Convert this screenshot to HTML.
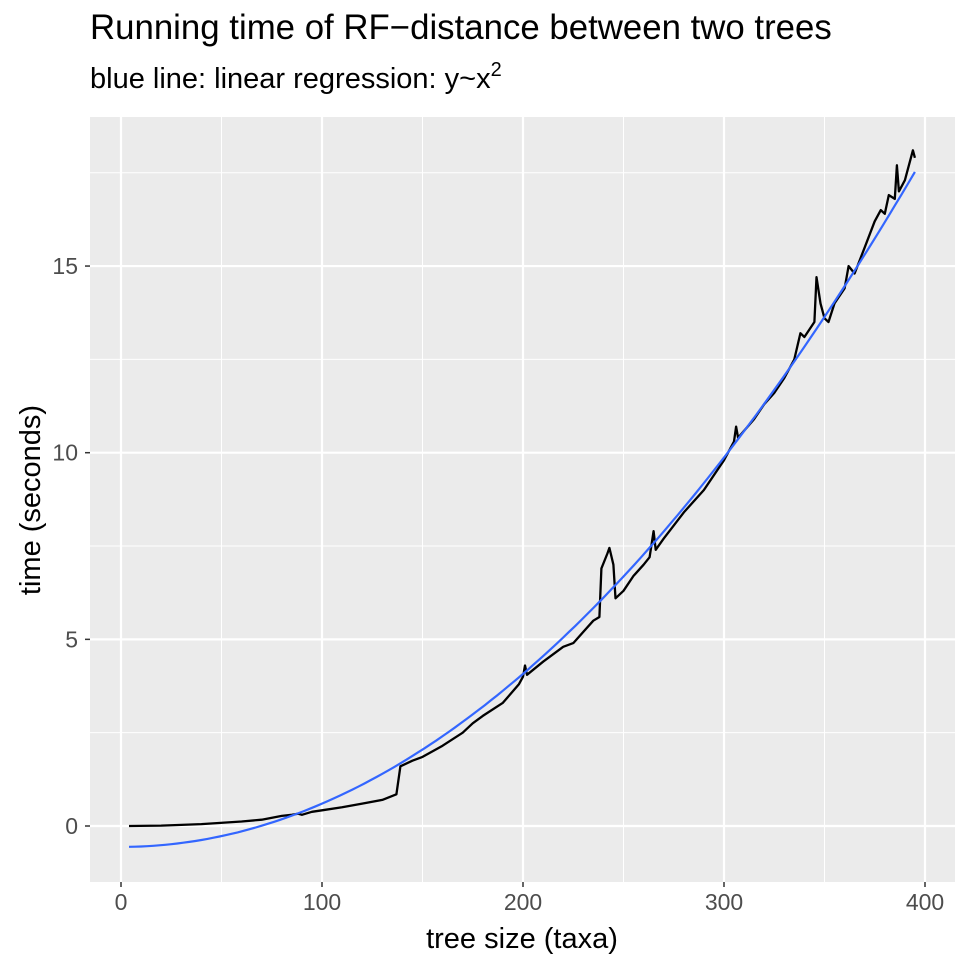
<!DOCTYPE html>
<html><head><meta charset="utf-8"><style>
body{margin:0;background:#fff}
svg text{font-family:"Liberation Sans",sans-serif}
</style></head><body>
<svg width="965" height="968" xmlns="http://www.w3.org/2000/svg">
<g id="root"></g>
</svg>
<script>
const xTicks=[0,100,200,300,400];
const yTicks=[0,5,10,15];
const xMinor=[50,150,250,350];
const yMinor=[2.5,7.5,12.5,17.5];
const sizes=[4,20,40,60,70,80,85,88,90,95,100,110,120,130,137,139,145,150,160,170,175,180,190,198,200,201,202,210,220,225,230,235,238,239,242,243,245,246,250,255,260,263,265,266,270,280,290,300,305,306,307,315,320,325,330,335,338,340,345,346,348,350,352,355,360,362,365,370,375,378,380,382,385,386,387,390,393,394,395];
const times=[0,0.01,0.05,0.12,0.17,0.27,0.3,0.33,0.3,0.38,0.42,0.5,0.6,0.7,0.85,1.6,1.75,1.85,2.15,2.5,2.75,2.95,3.3,3.8,4.0,4.3,4.05,4.4,4.8,4.9,5.2,5.5,5.6,6.9,7.3,7.45,7.0,6.1,6.3,6.7,7.0,7.2,7.9,7.4,7.7,8.4,9.0,9.8,10.3,10.7,10.4,10.9,11.3,11.6,12.0,12.5,13.2,13.1,13.5,14.7,14.0,13.6,13.5,14.0,14.4,15.0,14.8,15.5,16.2,16.5,16.4,16.9,16.8,17.7,17.0,17.3,17.9,18.1,17.9];
const fitCoef=[-0.56,1.159e-4];
const fitRange=[4,395];
const NS="http://www.w3.org/2000/svg";
const L=90,R=955,T=117,B=882;
const sx=v=>121+v*2.01;
const sy=v=>826-v*37.33;
const root=document.getElementById('root');
function mk(tag,attrs,parent){const e=document.createElementNS(NS,tag);for(const k in attrs)e.setAttribute(k,attrs[k]);(parent||root).appendChild(e);return e;}
const panel=mk('rect',{x:L,y:T,width:R-L,height:B-T,fill:'#ebebeb'});


xMinor.forEach(v=>{const l=mk('line',{x1:sx(v),x2:sx(v),y1:T,y2:B,stroke:'#fff','stroke-width':1});});
yMinor.forEach(v=>{const l=mk('line',{x1:L,x2:R,y1:sy(v),y2:sy(v),stroke:'#fff','stroke-width':1});});
xTicks.forEach(v=>{const l=mk('line',{x1:sx(v),x2:sx(v),y1:T,y2:B,stroke:'#fff','stroke-width':2.2});
const t=mk('line',{x1:sx(v),x2:sx(v),y1:B,y2:B+5,stroke:'#333','stroke-width':1.5});
const tx=mk('text',{x:sx(v),y:B+28,'text-anchor':'middle','font-size':23,fill:'#4d4d4d'});tx.textContent=v;});
yTicks.forEach(v=>{const l=mk('line',{x1:L,x2:R,y1:sy(v),y2:sy(v),stroke:'#fff','stroke-width':2.2});
const t=mk('line',{x1:L-5,x2:L,y1:sy(v),y2:sy(v),stroke:'#333','stroke-width':1.5});
const tx=mk('text',{x:L-12,y:sy(v)+8,'text-anchor':'end','font-size':23,fill:'#4d4d4d'});tx.textContent=v;});
const d=sizes.map((s,i)=>(i?'L':'M')+sx(s).toFixed(1)+','+sy(times[i]).toFixed(1)).join('');
const ln=mk('path',{d:d,fill:'none',stroke:'#000','stroke-width':2.3,'stroke-linejoin':'round'});


let fd='';for(let x=fitRange[0],i=0;x<=fitRange[1];x+=3,i++){fd+=(i?'L':'M')+sx(x).toFixed(1)+','+sy(fitCoef[0]+fitCoef[1]*x*x).toFixed(1);}
fd+='L'+sx(fitRange[1]).toFixed(1)+','+sy(fitCoef[0]+fitCoef[1]*fitRange[1]*fitRange[1]).toFixed(1);
const fl=mk('path',{d:fd,fill:'none',stroke:'#3366ff','stroke-width':2.2});


</script>
<svg width="965" height="968" style="position:absolute;left:0;top:0" xmlns="http://www.w3.org/2000/svg">
<text x="90" y="39" font-size="34.8" fill="#000" font-family="Liberation Sans">Running time of RF−distance between two trees</text>
<text x="90" y="88" font-size="29" fill="#000" font-family="Liberation Sans">blue line: linear regression: y~x<tspan dy="-12" font-size="20">2</tspan></text>
<text x="522" y="948" font-size="29" text-anchor="middle" fill="#000" font-family="Liberation Sans">tree size (taxa)</text>
<text transform="translate(40,500) rotate(-90)" font-size="29" text-anchor="middle" fill="#000" font-family="Liberation Sans">time (seconds)</text>
</svg>
</body></html>
